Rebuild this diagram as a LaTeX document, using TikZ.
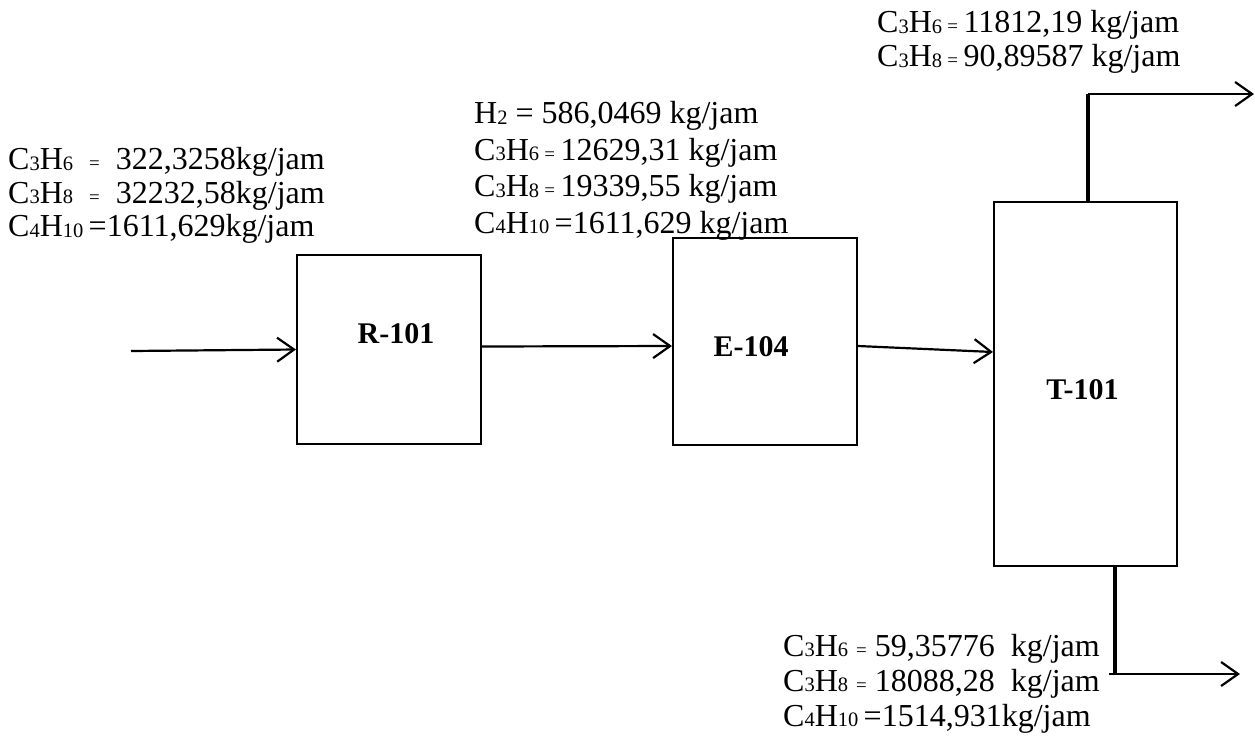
\documentclass[tikz,border=0pt]{standalone}
\usepackage{fontspec}
\setmainfont{Liberation Serif}
\usetikzlibrary{arrows.meta,positioning,calc}

\newcommand{\ix}[1]{\raisebox{-0.5pt}{\fontsize{20.5}{20.5}\selectfont #1}}
\newcommand{\smeq}{{\fontsize{19}{19}\selectfont =}}

\begin{document}
\begin{tikzpicture}[x=1pt,y=-1pt,>={Straight Barb[length=17pt,width=24pt]},
  font=\fontsize{32}{35}\selectfont]

\tikzset{
unit/.style={
    draw,
    line width=2pt,
    inner sep=0pt
},
tag/.style={font=\fontsize{30}{30}\selectfont\bfseries,inner sep=0pt},
flow/.style={->,line width=2.2pt},
riser/.style={line width=3.5pt},
stream/.style={anchor=north west,align=left,inner sep=0pt}
}

\useasboundingbox (0,0) rectangle (1255,740);

% units
\node[unit,minimum width=184pt,minimum height=189pt] (r101) at (389,349.5) {};
\node[unit,minimum width=184pt,minimum height=207pt] (e104) at (765,341.5) {};
\node[unit,minimum width=183pt,minimum height=364pt] (t101) at (1085.5,384) {};

\node[tag] (r101tag) at ($(r101)+(7,-16)$) {R-101};
\node[tag] (e104tag) at ($(e104)+(-14,5)$) {E-104};
\node[tag] (t101tag) at ($(t101)+(-3,6)$) {T-101};

% streams
\coordinate (feed) at (131,351);
\coordinate (topbend) at (1088,94);
\coordinate (vapour) at (1254,94);
\coordinate (botbend) at (1115,674);
\coordinate (bottoms) at (1240,674);

\draw[flow] (feed) -- (r101.west);
\draw[flow] ($(r101.east)+(0,-3)$) -- ($(e104.west)+(0,4.5)$);
\draw[flow] ($(e104.east)+(0,4.5)$) -- ($(t101.west)+(0,-32)$);
\draw[riser] ($(t101.north)+(2.5,0)$) -- (topbend);
\draw[flow] (topbend) -- (vapour);
\draw[riser] ($(t101.south)+(29.5,0)$) -- (botbend);
\draw[flow] ($(botbend)+(-6,0)$) -- (bottoms);

% stream compositions
\node[stream,font=\fontsize{32}{33.5}\selectfont] (feedtext) at (8,147.5)
  {C\ix3H\ix6 \ \smeq\ \ 322,3258kg/jam\\
   C\ix3H\ix8 \ \smeq\ \ 32232,58kg/jam\\
   C\ix4H\ix{10}\,=1611,629kg/jam};
\node[stream,font=\fontsize{32}{36.5}\selectfont] (reactortext) at (474,101.5)
  {H\ix2 = 586,0469 kg/jam\\
   C\ix3H\ix6\,\smeq\,12629,31 kg/jam\\
   C\ix3H\ix8\,\smeq\,19339,55 kg/jam\\
   C\ix4H\ix{10}\,=1611,629 kg/jam};
\node[stream,font=\fontsize{32}{34}\selectfont] (toptext) at (877,10.5)
  {C\ix3H\ix6\,\smeq\,11812,19 kg/jam\\
   C\ix3H\ix8\,\smeq\,90,89587 kg/jam};
\node[stream,font=\fontsize{32}{35}\selectfont] (bottomtext) at (783,634)
  {C\ix3H\ix6 \smeq{} 59,35776 \ kg/jam\\
   C\ix3H\ix8 \smeq{} 18088,28 \ kg/jam\\
   C\ix4H\ix{10}\,=1514,931kg/jam};

\end{tikzpicture}
\end{document}
